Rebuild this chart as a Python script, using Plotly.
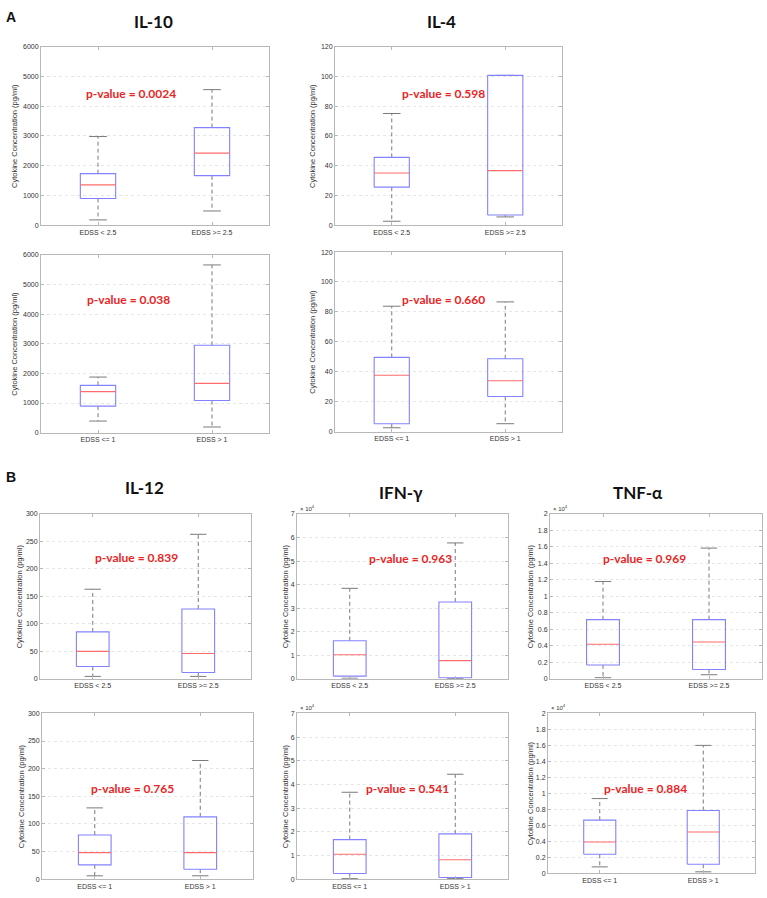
import plotly.graph_objects as go

# ---------------- data ----------------
GROUPS_25 = ["EDSS < 2.5", "EDSS >= 2.5"]
GROUPS_1 = ["EDSS <= 1", "EDSS > 1"]

# five-number summaries per group: [lower whisker, Q1, median, Q3, upper whisker]  (pg/ml)
IL10_EDSS25 = [[180, 900, 1357, 1733, 2980], [480, 1667, 2423, 3280, 4557]]
IL4_EDSS25 = [[2.7, 25.6, 35.1, 45.6, 75.1], [5.6, 6.9, 36.7, 100.7, 100.7]]
IL10_EDSS1 = [[391, 894, 1385, 1598, 1877], [190, 1084, 1665, 2950, 5665]]
IL4_EDSS1 = [[2.6, 5.3, 37.7, 49.6, 83.8], [5.3, 23.5, 34.0, 48.7, 86.7]]
IL12_EDSS25 = [[4.2, 22.2, 49.8, 85.2, 163], [4.2, 11.4, 46, 127, 263]]
IFNG_EDSS25 = [[200, 1100, 10200, 16100, 38400], [100, 400, 7700, 32600, 57700]]
TNFA_EDSS25 = [[120, 1670, 4180, 7170, 11800], [480, 1120, 4460, 7170, 15860]]
IL12_EDSS1 = [[6, 25.8, 48, 79.8, 129], [6, 18, 48, 112.8, 214.8]]
IFNG_EDSS1 = [[200, 2400, 10500, 16700, 36700], [200, 700, 8200, 19100, 44300]]
TNFA_EDSS1 = [[790, 2370, 3900, 6640, 9340], [170, 1120, 5150, 7840, 16000]]

P_VALUES = ["0.0024", "0.598", "0.038", "0.660", "0.839",
            "0.963", "0.969", "0.765", "0.541", "0.884"]

IL10_TICKS = [0, 1000, 2000, 3000, 4000, 5000, 6000]
IL4_TICKS = [0, 20, 40, 60, 80, 100, 120]
IL12_TICKS = [0, 50, 100, 150, 200, 250, 300]
IFNG_TICKS = [0, 10000, 20000, 30000, 40000, 50000, 60000, 70000]
IFNG_TICKTEXT = ["0", "1", "2", "3", "4", "5", "6", "7"]
TNFA_TICKS = [0, 2000, 4000, 6000, 8000, 10000, 12000, 14000, 16000, 18000, 20000]
TNFA_TICKTEXT = ["0", "0.2", "0.4", "0.6", "0.8", "1", "1.2", "1.4", "1.6", "1.8", "2"]

# ---------------- layout helpers ----------------
W, H = 767, 898
BOX_W = 0.31
BLUE = "#8282ff"
RED = "#ff6b6b"
WHISK = "#7a7a7a"
AXC = "#b8b8b8"
TXT = "#333333"

# panel: (summary, groups, ticks, ticktext, scale_note, pixel box (l, r, t, b), ytitle shift, p-value pos)
PANELS = [
    (IL10_EDSS25, GROUPS_25, IL10_TICKS, None, False, (41, 269, 43, 223), -26, (0.396, 0.739)),
    (IL4_EDSS25, GROUPS_25, IL4_TICKS, None, False, (335, 562, 43, 223), -22, (0.476, 0.735)),
    (IL10_EDSS1, GROUPS_1, IL10_TICKS, None, False, (41, 269, 253, 432), -26, (0.383, 0.749)),
    (IL4_EDSS1, GROUPS_1, IL4_TICKS, None, False, (335, 562, 250, 431), -22, (0.476, 0.736)),
    (IL12_EDSS25, GROUPS_25, IL12_TICKS, None, False, (40, 251, 514, 680), -21, (0.456, 0.734)),
    (IFNG_EDSS25, GROUPS_25, IFNG_TICKS, IFNG_TICKTEXT, True, (297, 508, 514, 680), -12, (0.540, 0.730)),
    (TNFA_EDSS25, GROUPS_25, TNFA_TICKS, TNFA_TICKTEXT, True, (550, 762, 514, 680), -20, (0.448, 0.730)),
    (IL12_EDSS1, GROUPS_1, IL12_TICKS, None, False, (42, 253, 715, 882), -21, (0.429, 0.548)),
    (IFNG_EDSS1, GROUPS_1, IFNG_TICKS, IFNG_TICKTEXT, True, (297, 508, 715, 882), -12, (0.526, 0.544)),
    (TNFA_EDSS1, GROUPS_1, TNFA_TICKS, TNFA_TICKTEXT, True, (548, 755, 715, 876), -18, (0.473, 0.531)),
]

fig = go.Figure()
layout = dict(
    width=W, height=H, margin=dict(l=0, r=0, t=0, b=0),
    paper_bgcolor="white", plot_bgcolor="white", showlegend=False,
    font=dict(family="Liberation Sans, Arial", color=TXT),
)
annotations = []

for k, (summ, groups, ticks, ticktext, note, (l, r, t, b), yshift, (px, py)) in enumerate(PANELS, start=1):
    sfx = "" if k == 1 else str(k)
    xa, ya = "x" + sfx, "y" + sfx
    positions = list(range(1, len(groups) + 1))
    for c, (lo, q1, med, q3, hi) in zip(positions, summ):
        # whiskers (dashed)
        fig.add_trace(go.Scatter(x=[c, c, None, c, c], y=[q3, hi, None, q1, lo], mode="lines",
                                 line=dict(color=WHISK, width=1, dash="4px,3px"),
                                 xaxis=xa, yaxis=ya, hoverinfo="skip"))
        # whisker caps
        fig.add_trace(go.Scatter(x=[c - BOX_W / 4, c + BOX_W / 4, None, c - BOX_W / 4, c + BOX_W / 4],
                                 y=[hi, hi, None, lo, lo], mode="lines",
                                 line=dict(color=WHISK, width=1),
                                 xaxis=xa, yaxis=ya, hoverinfo="skip"))
        # box
        fig.add_trace(go.Scatter(x=[c - BOX_W / 2, c + BOX_W / 2, c + BOX_W / 2, c - BOX_W / 2, c - BOX_W / 2],
                                 y=[q1, q1, q3, q3, q1], mode="lines",
                                 line=dict(color=BLUE, width=1.1),
                                 xaxis=xa, yaxis=ya, hoverinfo="skip"))
        # median
        fig.add_trace(go.Scatter(x=[c - BOX_W / 2, c + BOX_W / 2], y=[med, med], mode="lines",
                                 line=dict(color=RED, width=1.1),
                                 xaxis=xa, yaxis=ya, hoverinfo="skip"))

    layout["xaxis" + sfx] = dict(
        domain=[l / W, r / W], anchor=ya, range=[0.5, len(groups) + 0.5],
        tickvals=positions, ticktext=groups, showgrid=False, zeroline=False,
        showline=True, mirror="ticks", linecolor=AXC, linewidth=1,
        ticks="inside", ticklen=3, tickcolor=AXC,
        tickfont=dict(size=7, color=TXT, family="Liberation Sans, Arial"),
    )
    ydict = dict(
        domain=[1 - b / H, 1 - t / H], anchor=xa, range=[ticks[0], ticks[-1]],
        tickvals=ticks, showgrid=True, gridcolor="#e6e6e6", griddash="dot", gridwidth=1,
        zeroline=False, showline=True, mirror="ticks", linecolor=AXC, linewidth=1,
        ticks="inside", ticklen=3, tickcolor=AXC,
        tickfont=dict(size=7, color=TXT, family="Liberation Sans, Arial"),
    )
    if ticktext is not None:
        ydict["ticktext"] = ticktext
    layout["yaxis" + sfx] = ydict

    # y-axis title
    annotations.append(dict(
        text="Cytokine Concentration (pg/ml)", textangle=-90,
        xref=xa + " domain", yref=ya + " domain", x=0, y=0.5, xshift=yshift,
        xanchor="center", yanchor="middle", showarrow=False,
        font=dict(size=7.5, color=TXT, family="Liberation Sans, Arial"),
    ))
    # p-value
    annotations.append(dict(
        text="<b>p-value = " + P_VALUES[k - 1] + "</b>",
        xref=xa + " domain", yref=ya + " domain", x=px, y=py,
        xanchor="center", yanchor="middle", showarrow=False,
        font=dict(size=12, color="#e92626", family="Lato, Carlito, sans-serif"),
    ))
    if note:
        annotations.append(dict(
            text="× 10<sup>4</sup>", xref=xa + " domain", yref=ya + " domain", x=0, y=1,
            xshift=1, xanchor="left", yanchor="bottom", showarrow=False,
            font=dict(size=6, color=TXT, family="Liberation Sans, Arial"),
        ))

# panel titles and letters
TITLES = [("IL-10", 153, 18), ("IL-4", 441, 18), ("IL-12", 144, 487),
          ("IFN-γ", 401, 492), ("TNF-α", 638, 492)]
for txt, x, y in TITLES:
    annotations.append(dict(text="<b>" + txt + "</b>", xref="paper", yref="paper",
                            x=x / W, y=1 - y / H, xanchor="center", yanchor="middle",
                            showarrow=False,
                            font=dict(size=17, color="#111111", family="Lato, Carlito, sans-serif")))
for txt, x, y in [("A", 11, 13), ("B", 11, 477)]:
    annotations.append(dict(text="<b>" + txt + "</b>", xref="paper", yref="paper",
                            x=x / W, y=1 - y / H, xanchor="center", yanchor="middle",
                            showarrow=False,
                            font=dict(size=14, color="#111111", family="Liberation Sans, Arial")))

layout["annotations"] = annotations
fig.update_layout(**layout)
fig.write_html("out.html")
